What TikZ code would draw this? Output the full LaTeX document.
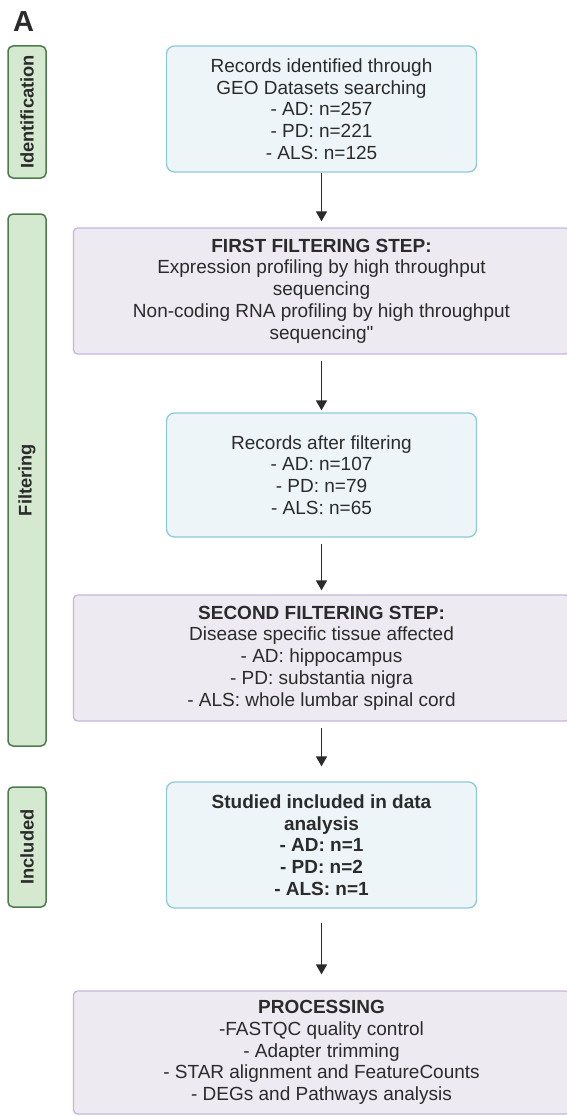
\documentclass[tikz,border=0pt]{standalone}
\usepackage{fontspec}
\setmainfont{Liberation Sans}
\newfontfamily\nomapfont{Liberation Sans}[Ligatures=TeXOff]
\usetikzlibrary{arrows.meta}
\definecolor{txt}{HTML}{2B2B2B}
\definecolor{bluefill}{HTML}{EEF5F8}
\definecolor{blueline}{HTML}{8FCAD6}
\definecolor{purpfill}{HTML}{EDEAF2}
\definecolor{purpline}{HTML}{C6B6DE}
\definecolor{greenfill}{HTML}{D5E8D0}
\definecolor{greenline}{HTML}{4E7B4E}
\tikzset{
  boxtext/.style={text=txt, font=\fontsize{19}{21.7}\selectfont, align=center, inner sep=0pt},
  bluebox/.style={boxtext, draw=blueline, fill=bluefill, line width=1.3pt, rounded corners=8pt, minimum width=310pt, minimum height=126pt},
  purpbox/.style={boxtext, draw=purpline, fill=purpfill, line width=1.3pt, rounded corners=4pt, minimum width=496pt, minimum height=126pt},
  phase/.style={draw=greenline, fill=greenfill, line width=1.5pt, rounded corners=5pt, minimum width=38pt, inner sep=0pt},
  phasetext/.style={text=txt, font=\fontsize{18.3}{20}\selectfont\bfseries, rotate=90},
  arr/.style={draw=txt, line width=1.5pt, -{Triangle[width=11pt,length=10pt]}}
}
\begin{document}
\begin{tikzpicture}[x=1pt,y=-1pt]
\useasboundingbox (0,0) rectangle (566,1116);
\fill[white] (0,0) rectangle (566,1116);

\node[anchor=north west, inner sep=0pt, text=txt, font=\fontsize{29}{30}\selectfont\bfseries] (lab) at (13,11) {A};

% phase bars
\node[phase, minimum height=132pt] (g1) at (27,112) {};
\node[phasetext] (g1t) at (g1.center) {Identification};
\node[phase, minimum height=532pt] (g2) at (27,480) {};
\node[phasetext] (g2t) at (g2.center) {Filtering};
\node[phase, minimum height=120pt] (g3) at (27,847) {};
\node[phasetext] (g3t) at (g3.center) {Included};

% boxes
\node[bluebox] (b1) at (321.5,109) {Records identified through\\GEO Datasets searching\\- AD: n=257\\- PD: n=221\\- ALS: n=125};
\node[purpbox] (b2) at (321.5,291) {\textbf{FIRST FILTERING STEP:}\\Expression profiling by high throughput\\sequencing\\Non-coding RNA profiling by high throughput\\sequencing{\nomapfont"}};
\node[bluebox, minimum height=124pt] (b3) at (321.5,475) {Records after filtering\\- AD: n=107\\- PD: n=79\\- ALS: n=65};
\node[purpbox] (b4) at (321.5,658) {\textbf{SECOND FILTERING STEP:}\\Disease specific tissue affected\\- AD: hippocampus\\- PD: substantia nigra\\- ALS: whole lumbar spinal cord};
\node[bluebox] (b5) at (321.5,845) {\bfseries Studied included in data\\\bfseries analysis\\\bfseries - AD: n=1\\\bfseries - PD: n=2\\\bfseries - ALS: n=1};
\node[purpbox, minimum height=123pt] (b6) at (321.5,1052.5) {\textbf{PROCESSING}\\-FASTQC quality control\\- Adapter trimming\\- STAR alignment and FeatureCounts\\- DEGs and Pathways analysis};

% arrows
\draw[arr] (b1.south) -- ([yshift=6pt]b2.north);
\draw[arr] ([yshift=-6pt]b2.south) -- ([yshift=2pt]b3.north);
\draw[arr] ([yshift=-6pt]b3.south) -- ([yshift=4pt]b4.north);
\draw[arr] ([yshift=-6pt]b4.south) -- ([yshift=15pt]b5.north);
\draw[arr] ([yshift=-14pt]b5.south) -- ([yshift=16pt]b6.north);
\end{tikzpicture}
\end{document}
